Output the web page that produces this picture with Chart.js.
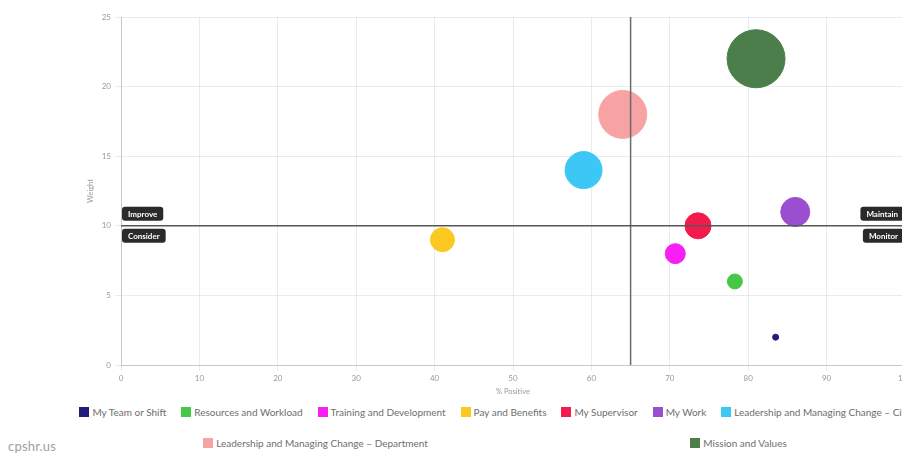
<!DOCTYPE html>
<html>
<head>
<meta charset="utf-8">
<script src="https://cdn.jsdelivr.net/npm/chart.js@4"></script>
<style>
  html, body { margin:0; padding:0; background:#fff; overflow:hidden; width:902px; height:454px; }
  #wrap { position:absolute; left:72px; top:0; width:846px; height:400px; }
  #legend { position:absolute; left:72px; top:400px; width:846px; display:flex; flex-wrap:wrap; justify-content:space-around; row-gap:17px; padding-top:5px; font-family:Lato, sans-serif; font-size:10px; color:#6e6e6e; }
  #legend .item { display:flex; align-items:center; height:14px; white-space:nowrap; }
  #legend .box { width:10px; height:10px; margin-right:3px; box-sizing:border-box; }
  #brand { position:absolute; left:8px; top:438px; font-family:Lato, sans-serif; font-size:13px; color:#a0a0a0; letter-spacing:0.2px; }
</style>
</head>
<body>
<div id="wrap"><canvas id="c" width="846" height="400"></canvas></div>
<div id="legend"></div>
<div id="brand">cpshr.us</div>
<script>
const categories = [
  "My Team or Shift",
  "Resources and Workload",
  "Training and Development",
  "Pay and Benefits",
  "My Supervisor",
  "My Work",
  "Leadership and Managing Change – City",
  "Leadership and Managing Change – Department",
  "Mission and Values"
];
const positive = [83.5, 78.3, 70.7, 41, 73.6, 86, 59, 64, 81];
const weight   = [2, 6, 8, 9, 10, 11, 14, 18, 22];
const radius   = [3, 7.5, 10, 12, 13, 14.5, 18.5, 24, 29];
const colors   = ["#231c78", "#46c846", "#f71ff5", "#fbc921", "#f21b4b", "#9b4ecf", "#3dc7f4", "#f7a3a3", "#4b7e4b"];
const xTicks = [0, 10, 20, 30, 40, 50, 60, 70, 80, 90, 100];
const yTicks = [0, 5, 10, 15, 20, 25];
const thresholdX = 65;
const thresholdY = 10;
const quadrantLabels = ["Improve", "Consider", "Maintain", "Monitor"];

const datasets = categories.map((name, i) => ({
  label: name,
  data: [{ x: positive[i], y: weight[i], r: radius[i] }],
  backgroundColor: colors[i],
  borderColor: colors[i],
  borderWidth: 1,
  hoverRadius: 0
}));

function roundRect(ctx, x, y, w, h, r) {
  ctx.beginPath();
  ctx.moveTo(x + r, y);
  ctx.lineTo(x + w - r, y);
  ctx.quadraticCurveTo(x + w, y, x + w, y + r);
  ctx.lineTo(x + w, y + h - r);
  ctx.quadraticCurveTo(x + w, y + h, x + w - r, y + h);
  ctx.lineTo(x + r, y + h);
  ctx.quadraticCurveTo(x, y + h, x, y + h - r);
  ctx.lineTo(x, y + r);
  ctx.quadraticCurveTo(x, y, x + r, y);
  ctx.closePath();
}

const quadrantPlugin = {
  id: 'quadrants',
  afterDatasetsDraw(chart) {
    const { ctx, chartArea: a, scales: { x, y } } = chart;
    const px = x.getPixelForValue(thresholdX);
    const py = y.getPixelForValue(thresholdY);
    ctx.save();
    ctx.strokeStyle = '#6b6b6b';
    ctx.lineWidth = 1.5;
    ctx.beginPath();
    ctx.moveTo(px, a.top); ctx.lineTo(px, a.bottom);
    ctx.stroke();
    ctx.strokeStyle = '#555';
    ctx.beginPath();
    ctx.moveTo(a.left, py); ctx.lineTo(a.right, py);
    ctx.stroke();

    ctx.font = 'bold 8px Lato, sans-serif';
    ctx.textBaseline = 'middle';
    const h = 14, padX = 6;
    const draw = (text, alignRight, above) => {
      const w = ctx.measureText(text).width + padX * 2;
      const bx = alignRight ? a.right - 1 - w : a.left + 1;
      const by = above ? py - 5 - h : py + 3;
      ctx.fillStyle = '#2a2a2a';
      roundRect(ctx, bx, by, w, h, 3);
      ctx.fill();
      ctx.fillStyle = '#fff';
      ctx.textAlign = 'left';
      ctx.fillText(text, bx + padX, by + h / 2 + 0.5);
    };
    draw(quadrantLabels[0], false, true);
    draw(quadrantLabels[1], false, false);
    draw(quadrantLabels[2], true, true);
    draw(quadrantLabels[3], true, false);
    ctx.restore();
  }
};

const chart = new Chart(document.getElementById('c'), {
  type: 'bubble',
  data: { datasets },
  options: {
    responsive: false,
    animation: false,
    events: [],
    layout: { autoPadding: false, padding: { top: 17, right: 13, bottom: 0, left: 0 } },
    plugins: {
      legend: { display: false },
      tooltip: { enabled: false }
    },
    scales: {
      x: {
        type: 'linear',
        min: xTicks[0],
        max: xTicks[xTicks.length - 1],
        afterBuildTicks: s => { s.ticks = xTicks.map(v => ({ value: v })); },
        afterFit: s => { s.height = 35; },
        grid: { color: 'rgba(0,0,0,0.08)', tickLength: 6 },
        border: { color: 'rgba(0,0,0,0.15)' },
        ticks: { color: '#999', font: { family: 'Lato, sans-serif', size: 8 }, padding: 3 },
        title: { display: true, text: '% Positive', color: '#999', font: { family: 'Lato, sans-serif', size: 7.5 }, padding: { top: 2, bottom: 4 } }
      },
      y: {
        type: 'linear',
        min: yTicks[0],
        max: yTicks[yTicks.length - 1],
        afterBuildTicks: s => { s.ticks = yTicks.map(v => ({ value: v })); },
        afterFit: s => { s.width = 49; },
        grid: { color: 'rgba(0,0,0,0.08)', tickLength: 6 },
        border: { color: 'rgba(0,0,0,0.15)' },
        ticks: { color: '#999', font: { family: 'Lato, sans-serif', size: 8 }, padding: 4 },
        title: { display: true, text: 'Weight', color: '#999', font: { family: 'Lato, sans-serif', size: 7.5 }, padding: { top: 14, bottom: 2 } }
      }
    }
  },
  plugins: [quadrantPlugin]
});

// HTML legend built from the chart's own legend items
const legendEl = document.getElementById('legend');
const items = chart.options.plugins.legend.labels.generateLabels(chart);
items.forEach(it => {
  const d = document.createElement('div');
  d.className = 'item';
  const b = document.createElement('span');
  b.className = 'box';
  b.style.background = it.fillStyle;
  const t = document.createElement('span');
  t.textContent = it.text;
  d.appendChild(b); d.appendChild(t);
  legendEl.appendChild(d);
});
</script>
</body>
</html>
